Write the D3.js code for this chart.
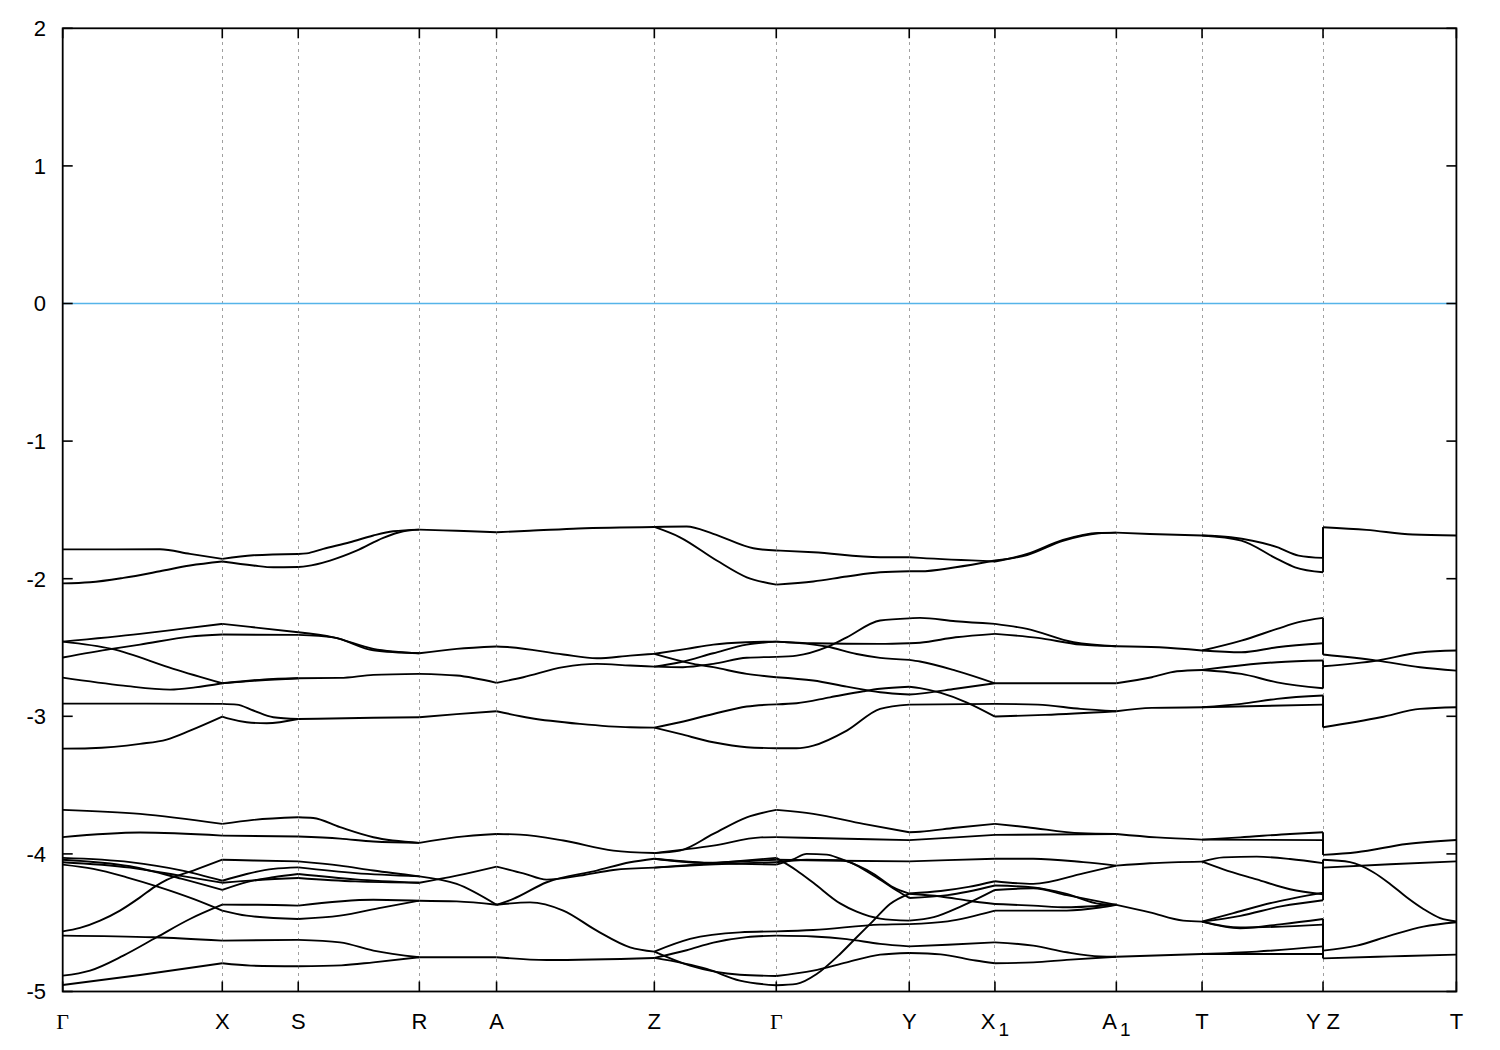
<!DOCTYPE html>
<html><head><meta charset="utf-8">
<script src="https://cdn.jsdelivr.net/npm/d3@7"></script>
<style>body{margin:0;background:#fff}</style>
</head><body><svg id="c" width="1500" height="1050"></svg>
<script>
// high-symmetry points along the k-path (path units 0..100)
const kPoints = [0, 11.45, 16.90, 25.59, 31.13, 42.45, 51.20, 60.74, 66.89, 75.60, 81.75, 90.43, 100];
const kLabels = ["Γ","X","S","R","A","Z","Γ","Y","X_1","A_1","T","Y Z","T"];
const yTicks = [-5,-4,-3,-2,-1,0,1,2];
const fermiLevel = 0;

// bands per path segment: arrays of [k, E(eV)]
const segGX = [
 [[0,-1.787],[3,-1.787],[6.98,-1.786],[9.13,-1.82],[11.45,-1.856]],
 [[0,-2.034],[1.96,-2.026],[4.35,-1.994],[6.98,-1.946],[9.13,-1.904],[11.45,-1.875]],
 [[0,-2.457],[5.55,-2.401],[8.5,-2.365],[11.45,-2.328]],
 [[0,-2.457],[3.52,-2.51],[7.94,-2.655],[11.45,-2.76]],
 [[0,-2.573],[3.52,-2.51],[5.55,-2.479],[9.13,-2.421],[11.45,-2.406]],
 [[0,-2.719],[4.35,-2.777],[7.7,-2.806],[9.5,-2.79],[11.45,-2.76]],
 [[0,-2.908],[6,-2.908],[11.45,-2.91]],
 [[0,-3.235],[1.96,-3.232],[5.55,-3.2],[7.46,-3.169],[9.13,-3.104],[11.45,-3.002]],
 [[0,-3.68],[5.55,-3.709],[11.45,-3.782]],
 [[0,-3.878],[5.55,-3.845],[11.45,-3.867]],
 [[0,-4.029],[4.83,-4.06],[8.5,-4.12],[11.45,-4.195]],
 [[0,-4.042],[4.83,-4.09],[8.5,-4.18],[11.45,-4.262]],
 [[0,-4.061],[4.83,-4.1],[8.5,-4.16],[11.45,-4.21]],
 [[0,-4.078],[2.2,-4.109],[4.59,-4.17],[6.98,-4.243],[9.37,-4.327],[11.45,-4.412]],
 [[0,-4.563],[1.24,-4.538],[2.68,-4.485],[4.11,-4.412],[5.55,-4.316],[6.62,-4.238],[7.46,-4.189],[9.37,-4.121],[11.45,-4.042]],
 [[0,-4.594],[6.5,-4.606],[11.45,-4.63]],
 [[0,-4.885],[1.96,-4.848],[4.35,-4.739],[6.74,-4.606],[9.13,-4.473],[11.45,-4.369]],
 [[0,-4.953],[5.55,-4.88],[11.45,-4.795]]
];
const segXS = [
 [[11.45,-1.856],[13.68,-1.83],[16.9,-1.82]],
 [[11.45,-1.875],[13.68,-1.904],[15.11,-1.917],[16.9,-1.915]],
 [[11.45,-2.328],[13.68,-2.353],[16.9,-2.389]],
 [[11.45,-2.406],[16.9,-2.408]],
 [[11.45,-2.76],[15.11,-2.728],[16.9,-2.723]],
 [[11.45,-2.76],[14,-2.74],[16.9,-2.723]],
 [[11.45,-2.91],[12.49,-2.915],[13.68,-2.958],[15.11,-3.007],[16.9,-3.02]],
 [[11.45,-3.002],[12.0,-3.019],[13.2,-3.043],[14.64,-3.051],[16.9,-3.02]],
 [[11.45,-3.782],[13.68,-3.753],[16.9,-3.734]],
 [[11.45,-3.867],[16.9,-3.874]],
 [[11.45,-4.042],[13.68,-4.048],[16.9,-4.054]],
 [[11.45,-4.195],[13.2,-4.146],[15.11,-4.109],[16.9,-4.098]],
 [[11.45,-4.262],[13.2,-4.205],[15.11,-4.17],[16.9,-4.146]],
 [[11.45,-4.21],[14,-4.19],[16.9,-4.175]],
 [[11.45,-4.369],[14,-4.37],[16.9,-4.376]],
 [[11.45,-4.412],[13.2,-4.449],[16.9,-4.473]],
 [[11.45,-4.63],[16.9,-4.625]],
 [[11.45,-4.795],[13.5,-4.812],[16.9,-4.817]]
];
const segSR = [
 [[16.9,-1.82],[17.5,-1.816],[18.7,-1.783],[20.61,-1.735],[22.29,-1.686],[23.72,-1.655],[25.59,-1.643]],
 [[16.9,-1.915],[17.5,-1.909],[19.18,-1.868],[21.09,-1.796],[23.0,-1.703],[24.44,-1.655],[25.59,-1.643]],
 [[16.9,-2.389],[19.42,-2.426],[22.29,-2.51],[25.59,-2.542]],
 [[16.9,-2.408],[19.42,-2.426],[22.29,-2.52],[25.59,-2.542]],
 [[16.9,-2.723],[19.9,-2.721],[22.29,-2.699],[25.59,-2.692]],
 [[16.9,-3.02],[22.29,-3.011],[25.59,-3.007]],
 [[16.9,-3.734],[17.98,-3.739],[19.9,-3.806],[22.29,-3.879],[25.59,-3.92]],
 [[16.9,-3.874],[19.9,-3.889],[22.29,-3.91],[25.59,-3.92]],
 [[16.9,-4.054],[19.9,-4.085],[22.29,-4.121],[25.59,-4.163]],
 [[16.9,-4.098],[21,-4.14],[25.59,-4.163]],
 [[16.9,-4.146],[21,-4.185],[25.59,-4.21]],
 [[16.9,-4.175],[21,-4.2],[25.59,-4.21]],
 [[16.9,-4.376],[22.29,-4.333],[25.59,-4.34]],
 [[16.9,-4.473],[19.9,-4.449],[22.9,-4.39],[25.59,-4.34]],
 [[16.9,-4.625],[19.9,-4.643],[22.29,-4.703],[25.59,-4.751]],
 [[16.9,-4.817],[20,-4.81],[22.29,-4.788],[25.59,-4.751]]
];
const segRA = [
 [[25.59,-1.643],[28.27,-1.652],[31.13,-1.662]],
 [[25.59,-2.542],[28.27,-2.51],[31.13,-2.493]],
 [[25.59,-2.692],[28.27,-2.704],[31.13,-2.757]],
 [[25.59,-3.007],[28.27,-2.984],[31.13,-2.963]],
 [[25.59,-3.92],[28.27,-3.878],[31.13,-3.855]],
 [[25.59,-4.163],[28.27,-4.218],[31.13,-4.37]],
 [[25.59,-4.21],[28.27,-4.158],[31.13,-4.092]],
 [[25.59,-4.34],[28.27,-4.345],[31.13,-4.37]],
 [[25.59,-4.751],[31.13,-4.751]]
];
const segAZ = [
 [[31.13,-1.662],[33.5,-1.652],[37,-1.635],[42.45,-1.624]],
 [[31.13,-2.493],[32.1,-2.498],[35.92,-2.551],[38.32,-2.578],[40.71,-2.559],[42.45,-2.546]],
 [[31.13,-2.757],[33.05,-2.716],[35.92,-2.643],[38.32,-2.619],[40.71,-2.631],[42.45,-2.639]],
 [[31.13,-2.963],[33.53,-3.012],[37.12,-3.055],[40.71,-3.08],[42.45,-3.082]],
 [[31.13,-3.855],[32.81,-3.86],[35.92,-3.903],[39.51,-3.976],[42.45,-3.994]],
 [[31.13,-4.37],[33.53,-4.352],[35.92,-4.412],[38.32,-4.558],[40.71,-4.679],[42.45,-4.71]],
 [[31.13,-4.37],[32.33,-4.327],[34.73,-4.206],[38.32,-4.121],[40.71,-4.061],[42.45,-4.035]],
 [[31.13,-4.092],[33.05,-4.141],[34.73,-4.187],[37.12,-4.158],[39.51,-4.117],[42.45,-4.1]],
 [[31.13,-4.751],[34.73,-4.771],[42.45,-4.756]]
];
const segZG = [
 [[42.45,-1.624],[44.77,-1.621],[46.68,-1.674],[49.55,-1.779],[51.2,-1.795]],
 [[42.45,-1.624],[44.29,-1.699],[46.93,-1.868],[49.08,-1.99],[51.2,-2.043]],
 [[42.45,-2.546],[44.77,-2.51],[46.68,-2.479],[49.08,-2.462],[51.2,-2.457]],
 [[42.45,-2.546],[45.25,-2.619],[46.68,-2.643],[49.08,-2.692],[51.2,-2.716]],
 [[42.45,-2.639],[44.5,-2.643],[46.68,-2.619],[49.08,-2.575],[51.2,-2.568]],
 [[42.45,-2.639],[44.29,-2.607],[46.68,-2.542],[49.08,-2.479],[51.2,-2.457]],
 [[42.45,-3.082],[44.29,-3.043],[46.68,-2.983],[49.08,-2.929],[51.2,-2.913]],
 [[42.45,-3.082],[44.29,-3.128],[46.68,-3.189],[49.08,-3.225],[51.2,-3.232]],
 [[42.45,-3.994],[44.29,-3.976],[46.68,-3.855],[49.08,-3.734],[51.2,-3.68]],
 [[42.45,-3.994],[46.68,-3.94],[50.1,-3.88],[51.2,-3.878]],
 [[42.45,-4.035],[45.5,-4.06],[48.5,-4.072],[51.2,-4.078]],
 [[42.45,-4.035],[46,-4.065],[48.5,-4.055],[51.2,-4.042]],
 [[42.45,-4.1],[46,-4.08],[51.2,-4.061]],
 [[42.45,-4.1],[46.5,-4.07],[51.2,-4.029]],
 [[42.45,-4.71],[45.01,-4.618],[48.59,-4.57],[51.2,-4.563]],
 [[42.45,-4.756],[44.77,-4.7],[46.68,-4.645],[49.08,-4.605],[51.2,-4.594]],
 [[42.45,-4.71],[45.01,-4.812],[48.59,-4.878],[51.2,-4.887]],
 [[42.45,-4.756],[46.21,-4.836],[48.59,-4.921],[51.2,-4.955]]
];
const segGY = [
 [[51.2,-1.795],[53.86,-1.808],[58.65,-1.844],[60.74,-1.844]],
 [[51.2,-2.043],[53.86,-2.02],[56.26,-1.984],[58.65,-1.953],[60.74,-1.946]],
 [[51.2,-2.457],[53.86,-2.469],[58.65,-2.474],[60.74,-2.469]],
 [[51.2,-2.457],[54.82,-2.493],[56.97,-2.547],[58.65,-2.575],[60.74,-2.59]],
 [[51.2,-2.568],[52.66,-2.559],[54.82,-2.498],[56.26,-2.426],[58.65,-2.304],[60.74,-2.288]],
 [[51.2,-2.716],[53.86,-2.74],[56.26,-2.784],[58.65,-2.825],[60.74,-2.842]],
 [[51.2,-2.913],[52.66,-2.905],[55.06,-2.862],[57.45,-2.818],[58.65,-2.8],[60.74,-2.785]],
 [[51.2,-3.232],[52.66,-3.232],[53.86,-3.213],[56.26,-3.104],[58.65,-2.946],[60.74,-2.915]],
 [[51.2,-3.68],[53.86,-3.709],[57.45,-3.782],[60.74,-3.843]],
 [[51.2,-3.878],[56.26,-3.89],[60.74,-3.9]],
 [[51.2,-4.042],[55.78,-4.05],[60.74,-4.054]],
 [[51.2,-4.078],[52.4,-4.04],[53.38,-4.0],[54.82,-4.005],[55.78,-4.035],[58.17,-4.144],[59.6,-4.243],[60.74,-4.288]],
 [[51.2,-4.061],[53.38,-4.042],[55.78,-4.045],[58.17,-4.156],[59.9,-4.27],[60.74,-4.32]],
 [[51.2,-4.029],[52.66,-4.12],[53.86,-4.21],[55.78,-4.36],[56.97,-4.42],[58.65,-4.47],[60.74,-4.485]],
 [[51.2,-4.563],[53.86,-4.553],[58.65,-4.514],[60.74,-4.51]],
 [[51.2,-4.594],[53.86,-4.6],[56.26,-4.619],[58.65,-4.654],[60.74,-4.672]],
 [[51.2,-4.887],[53.86,-4.848],[56.26,-4.788],[58.65,-4.732],[60.74,-4.72]],
 [[51.2,-4.955],[52.66,-4.945],[54.1,-4.873],[55.78,-4.727],[56.97,-4.606],[58.17,-4.485],[59.36,-4.364],[60.74,-4.29]]
];
const segYX1 = [
 [[60.74,-1.844],[61.51,-1.849],[66.89,-1.875]],
 [[60.74,-1.946],[61.51,-1.946],[64.07,-1.917],[66.89,-1.868]],
 [[60.74,-2.288],[61.51,-2.285],[64.07,-2.309],[66.89,-2.328]],
 [[60.74,-2.469],[61.51,-2.465],[64.07,-2.426],[66.89,-2.401]],
 [[60.74,-2.59],[61.51,-2.602],[64.07,-2.668],[66.89,-2.76]],
 [[60.74,-2.842],[61.51,-2.835],[64.07,-2.8],[66.89,-2.76]],
 [[60.74,-2.785],[61.51,-2.795],[63.01,-2.83],[64.84,-2.898],[66.89,-3.002]],
 [[60.74,-2.915],[66.89,-2.91]],
 [[60.74,-3.843],[61.51,-3.839],[64.07,-3.81],[66.89,-3.782]],
 [[60.74,-3.9],[64.07,-3.88],[66.89,-3.862]],
 [[60.74,-4.054],[63.5,-4.045],[66.89,-4.035]],
 [[60.74,-4.288],[63,-4.27],[65,-4.24],[66.89,-4.199]],
 [[60.74,-4.29],[63,-4.31],[65,-4.34],[66.89,-4.364]],
 [[60.74,-4.32],[63.5,-4.3],[66.89,-4.23]],
 [[60.74,-4.485],[62.5,-4.46],[64.5,-4.38],[66.89,-4.262]],
 [[60.74,-4.51],[63.5,-4.49],[66.89,-4.412]],
 [[60.74,-4.672],[63.5,-4.66],[66.89,-4.643]],
 [[60.74,-4.72],[63,-4.73],[65.5,-4.775],[66.89,-4.795]]
];
const segX1A1 = [
 [[66.89,-1.875],[69.2,-1.82],[71.77,-1.718],[74.33,-1.667],[75.6,-1.665]],
 [[66.89,-1.868],[69.2,-1.828],[71.77,-1.725],[74.33,-1.67],[75.6,-1.665]],
 [[66.89,-2.328],[69.2,-2.365],[72.53,-2.462],[75.6,-2.491]],
 [[66.89,-2.401],[69.97,-2.43],[73.04,-2.479],[75.6,-2.491]],
 [[66.89,-2.76],[70.48,-2.76],[75.6,-2.76]],
 [[66.89,-3.002],[70.48,-2.99],[75.6,-2.963]],
 [[66.89,-2.91],[69.97,-2.915],[73.04,-2.946],[75.6,-2.963]],
 [[66.89,-3.782],[69.2,-3.806],[73.04,-3.85],[75.6,-3.855]],
 [[66.89,-3.862],[75.6,-3.855]],
 [[66.89,-4.035],[69.64,-4.035],[73.23,-4.06],[75.6,-4.085]],
 [[66.89,-4.199],[69.64,-4.218],[73.23,-4.141],[75.6,-4.085]],
 [[66.89,-4.23],[69.64,-4.243],[72.04,-4.291],[74.43,-4.364],[75.6,-4.37]],
 [[66.89,-4.262],[69.64,-4.25],[72.04,-4.3],[75.6,-4.37]],
 [[66.89,-4.364],[69.64,-4.376],[72.04,-4.388],[75.6,-4.37]],
 [[66.89,-4.412],[72.04,-4.412],[74.43,-4.39],[75.6,-4.37]],
 [[66.89,-4.643],[69.64,-4.667],[72.04,-4.715],[74.43,-4.745],[75.6,-4.747]],
 [[66.89,-4.795],[69.64,-4.788],[72.04,-4.77],[75.6,-4.747]]
];
const segA1T = [
 [[75.6,-1.665],[78,-1.675],[81.75,-1.686]],
 [[75.6,-2.491],[78.68,-2.498],[81.75,-2.522]],
 [[75.6,-2.76],[78.15,-2.716],[79.95,-2.673],[81.75,-2.663]],
 [[75.6,-2.963],[78.15,-2.939],[81.75,-2.934]],
 [[75.6,-3.855],[78.5,-3.88],[81.75,-3.896]],
 [[75.6,-4.085],[78,-4.068],[81.75,-4.056]],
 [[75.6,-4.37],[78.01,-4.425],[80.4,-4.485],[81.75,-4.492]],
 [[75.6,-4.747],[81.75,-4.727]]
];
const segTY = [
 [[81.75,-1.686],[83.81,-1.699],[87.13,-1.771],[88.68,-1.832],[90.43,-1.849]],
 [[81.75,-1.686],[84.57,-1.723],[87.13,-1.856],[88.42,-1.917],[90.43,-1.953]],
 [[81.75,-2.522],[84.57,-2.45],[87.13,-2.365],[88.68,-2.316],[90.43,-2.285]],
 [[81.75,-2.522],[84.57,-2.535],[87.13,-2.498],[90.43,-2.469]],
 [[81.75,-2.663],[83.3,-2.644],[87.13,-2.607],[90.43,-2.595]],
 [[81.75,-2.663],[84.57,-2.692],[87.13,-2.753],[90.43,-2.796]],
 [[81.75,-2.934],[84.57,-2.91],[87.13,-2.873],[90.43,-2.849]],
 [[81.75,-2.934],[90.43,-2.915]],
 [[81.75,-3.896],[84.48,-3.88],[88.06,-3.855],[90.43,-3.843]],
 [[81.75,-3.896],[90.43,-3.9]],
 [[81.75,-4.056],[83.28,-4.025],[85.67,-4.02],[88.06,-4.037],[90.43,-4.067]],
 [[81.75,-4.056],[83.28,-4.112],[85.67,-4.185],[88.06,-4.257],[90.43,-4.293]],
 [[81.75,-4.492],[84,-4.43],[87,-4.35],[90.43,-4.281]],
 [[81.75,-4.492],[84.5,-4.45],[87.5,-4.38],[90.43,-4.337]],
 [[81.75,-4.492],[84.48,-4.54],[87.5,-4.51],[90.43,-4.473]],
 [[81.75,-4.492],[84.48,-4.535],[90.43,-4.514]],
 [[81.75,-4.727],[85.67,-4.71],[90.43,-4.672]],
 [[81.75,-4.727],[90.43,-4.727]]
];
const segZT = [
 [[90.43,-1.626],[93.55,-1.645],[96.88,-1.679],[100,-1.686]],
 [[90.43,-2.551],[94.31,-2.595],[97.39,-2.644],[100,-2.668]],
 [[90.43,-2.636],[94.31,-2.595],[97.39,-2.536],[100,-2.522]],
 [[90.43,-3.08],[94.57,-3.007],[97.39,-2.946],[100,-2.934]],
 [[90.43,-4.007],[92.85,-3.988],[96.43,-3.928],[100,-3.899]],
 [[90.43,-4.043],[92.37,-4.06],[94.04,-4.133],[95.24,-4.218],[96.43,-4.315],[97.63,-4.4],[98.83,-4.466],[100,-4.49]],
 [[90.43,-4.1],[95.24,-4.075],[100,-4.054]],
 [[90.43,-4.703],[92.85,-4.667],[95.24,-4.594],[97.63,-4.529],[100,-4.497]],
 [[90.43,-4.759],[95.24,-4.745],[100,-4.732]]
];
// band energies on both sides of the Y|Z discontinuity (joined by vertical steps)
const jumpAtY = [-1.849,-1.953,-2.285,-2.469,-2.595,-2.796,-2.849,-2.915,-3.843,-3.9,-4.067,-4.281,-4.293,-4.337,-4.473,-4.514,-4.672,-4.727];
const jumpAtZ = [-1.626,-1.626,-2.551,-2.551,-2.636,-2.636,-3.08,-3.08,-4.007,-4.007,-4.043,-4.043,-4.1,-4.1,-4.703,-4.703,-4.759,-4.759];
const jumpK = 90.43;

const segments = [segGX, segXS, segSR, segRA, segAZ, segZG, segGY, segYX1, segX1A1, segA1T, segTY, segZT];

const svg = d3.select("#c");
const L = 62.7, R = 1456.4, T = 28.3, B = 991.5;
const x = d3.scaleLinear().domain([0,100]).range([L,R]);
const y = d3.scaleLinear().domain([-5,2]).range([B,T]);

svg.append("rect").attr("width",1500).attr("height",1050).attr("fill","#fff");

// vertical dashed grid at interior high-symmetry points
svg.append("g").selectAll("line").data(kPoints.slice(1,-1)).join("line")
  .attr("x1",d=>x(d)).attr("x2",d=>x(d)).attr("y1",T).attr("y2",B)
  .attr("stroke","#a0a0a0").attr("stroke-width",1).attr("stroke-dasharray","3,4")
  .attr("shape-rendering","crispEdges");

// Fermi level
svg.append("line").attr("x1",L).attr("x2",R).attr("y1",y(fermiLevel)).attr("y2",y(fermiLevel))
  .attr("stroke","#56b4e9").attr("stroke-width",1.7);

// bands
const line = d3.line().x(d=>x(d[0])).y(d=>y(d[1])).curve(d3.curveMonotoneX);
const gb = svg.append("g").attr("fill","none").attr("stroke","#000").attr("stroke-width",1.9)
  .attr("stroke-linejoin","round");
segments.forEach(seg=>{
  gb.selectAll(null).data(seg).join("path").attr("d",line);
});
gb.selectAll(null).data(d3.zip(jumpAtY,jumpAtZ)).join("line")
  .attr("x1",x(jumpK)).attr("x2",x(jumpK)).attr("y1",d=>y(d[0])).attr("y2",d=>y(d[1]));

// frame
svg.append("rect").attr("x",L).attr("y",T).attr("width",R-L).attr("height",B-T)
  .attr("fill","none").attr("stroke","#000").attr("stroke-width",1.8);

// ticks
const tk = svg.append("g").attr("stroke","#000").attr("stroke-width",1.6);
yTicks.forEach(v=>{
  tk.append("line").attr("x1",L).attr("x2",L+10).attr("y1",y(v)).attr("y2",y(v));
  tk.append("line").attr("x1",R).attr("x2",R-10).attr("y1",y(v)).attr("y2",y(v));
});
kPoints.forEach(v=>{
  tk.append("line").attr("x1",x(v)).attr("x2",x(v)).attr("y1",B).attr("y2",B-10);
  tk.append("line").attr("x1",x(v)).attr("x2",x(v)).attr("y1",T).attr("y2",T+10);
});

// y labels
svg.append("g").selectAll("text").data(yTicks).join("text")
  .attr("x",46).attr("y",d=>y(d)).attr("dy","0.36em").attr("text-anchor","end")
  .attr("font-family","Liberation Sans, Arial, sans-serif").attr("font-size",22)
  .text(d=>d);

// x labels
const gx = svg.append("g").attr("font-family","Liberation Sans, Arial, sans-serif").attr("font-size",22);
kLabels.forEach((lab,i)=>{
  const t = gx.append("text").attr("x",x(kPoints[i])).attr("y",1029).attr("text-anchor","middle");
  if (lab === "Γ") {
    t.attr("font-family","Liberation Serif, Times New Roman, serif").text(lab);
  } else if (lab.includes("_")) {
    const [a,b] = lab.split("_");
    t.append("tspan").text(a);
    t.append("tspan").attr("font-size",19).attr("dx",3).attr("dy",7).text(b);
  } else {
    t.text(lab);
  }
});
</script>
</body></html>
